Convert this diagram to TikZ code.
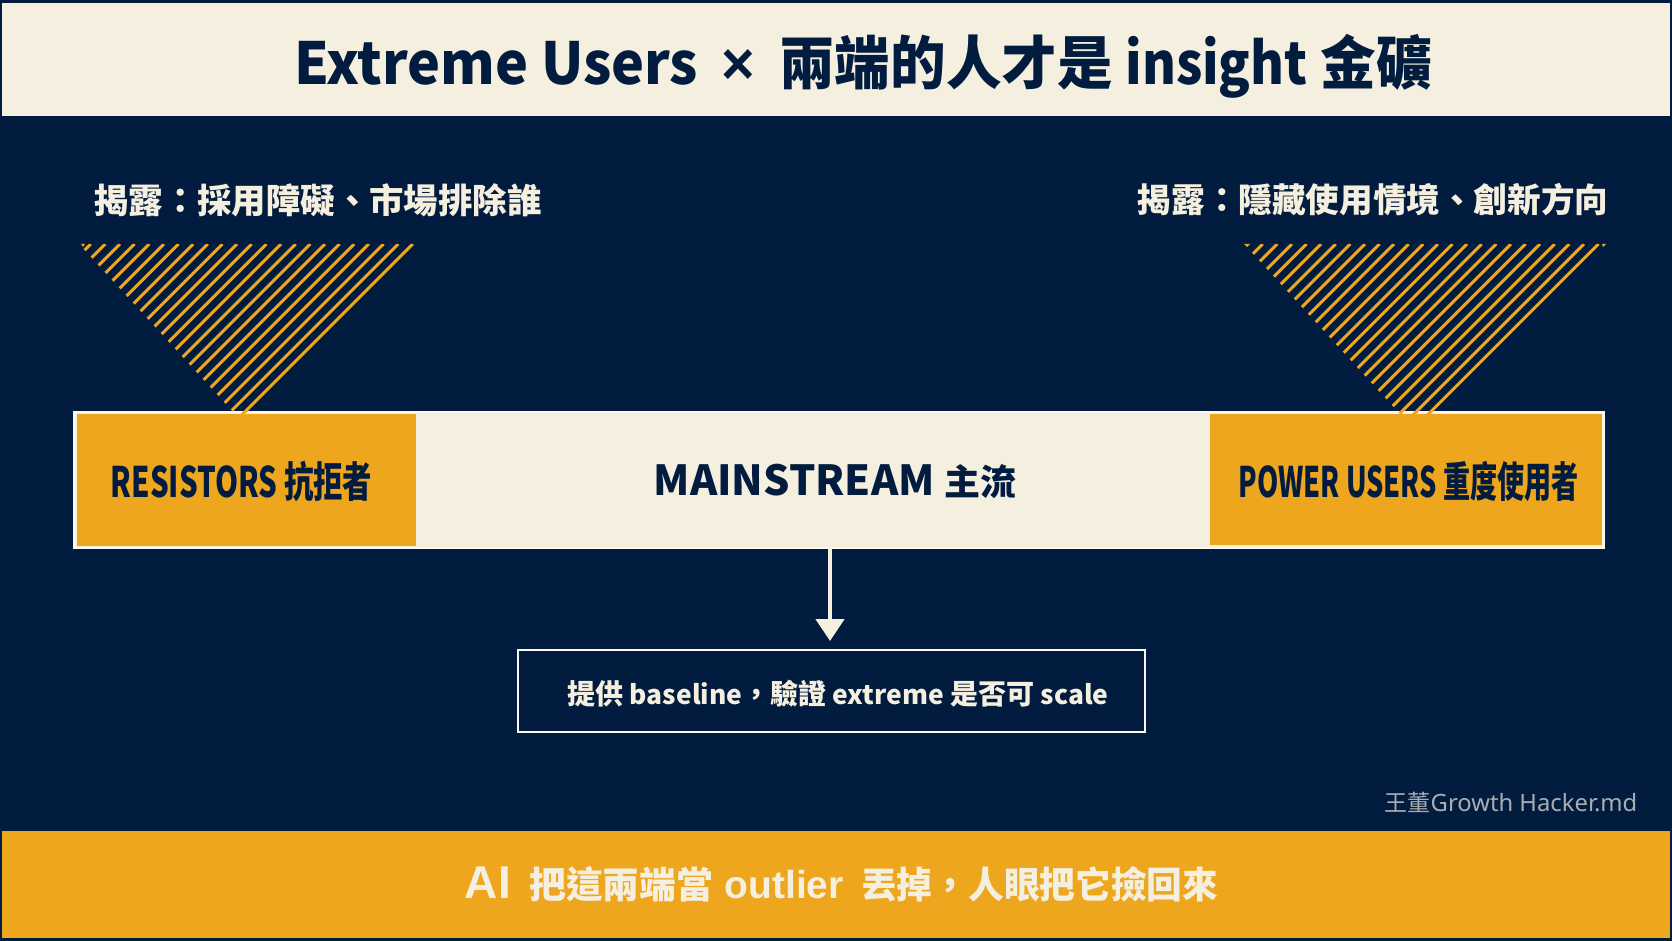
\documentclass[tikz,border=0pt]{standalone}
\usepackage{fontspec}
\usetikzlibrary{arrows.meta}
\setmainfont{Noto Sans CJK TC}
\newfontfamily\latinb{Noto Sans}
\newfontfamily\arialb[BoldFont={Liberation Sans Bold}]{Liberation Sans}
\definecolor{navy}{HTML}{021C3F}
\definecolor{cream}{HTML}{F5EFE0}
\definecolor{amber}{HTML}{EEA61E}
\definecolor{edge}{HTML}{FBF8F0}
\definecolor{mark}{HTML}{A9ADB3}
\newcommand{\fs}[1]{\fontsize{#1}{#1}\selectfont}
\newcommand{\fwcolon}{^^^^ff1a}
\newcommand{\fwcomma}{^^^^ff0c}
\tikzset{
  x=0.5pt,y=-0.5pt,
  band/.style={rectangle,inner sep=0pt,outer sep=0pt},
  label/.style={inner sep=0pt,outer sep=0pt,anchor=center,font=\bfseries},
  hatchline/.style={draw=amber,line width=1.5pt},
  flow/.style={draw=cream,line width=2.2pt,-{Triangle[width=14pt,length=11pt,fill=cream]}}
}
\begin{document}
\begin{tikzpicture}
\useasboundingbox (0,0) rectangle (1672,941);
\fill[navy] (0,0) rectangle (1672,941);
% banners
\node[band,fill=cream,minimum width=834pt,minimum height=56.5pt] (top) at (836,59.5) {};
\node[band,fill=amber,minimum width=834pt,minimum height=53.5pt] (bottom) at (836,884.5) {};
\node[label,text=navy] (title) at (863,66) {\scalebox{0.958}[1]{\fs{29}Extreme Users\hspace{5.8pt} {\arialb\bfseries\fs{30}×}\hspace{5.8pt} 兩端的人才是 \scalebox{0.93}[1]{insight} 金礦}};
\node[label,text=cream] (bottomtext) at (841.5,884) {\fs{18.4}{\arialb\bfseries\fs{23}AI}\hspace{5pt} 把這兩端當\hspace{1.5pt} {\arialb\bfseries\fs{19.5}outlier}\hspace{4.5pt} \scalebox{0.97}[1]{丟掉\fwcomma 人眼把它撿回來}};
% scale bar
\node[band,fill=cream,draw=edge,line width=1.25pt,minimum width=764.5pt,minimum height=67.75pt] (main) at (839,480) {};
\node[band,fill=amber,minimum width=169.5pt,minimum height=66pt] (resist) at (246.5,480) {};
\node[band,fill=amber,minimum width=196pt,minimum height=65.5pt] (power) at (1406,479.5) {};
\node[label,text=navy] (resisttext) at (241.5,481) {\scalebox{0.70}[1]{\fs{21}RESISTORS 抗拒者}};
\node[label,text=navy] (powertext) at (1408.5,481) {\scalebox{0.645}[1]{\fs{21}POWER USERS 重度使用者}};
\node[label,text=navy] (maintext) at (835,481) {\fs{20.7}MAINSTREAM {\fs{18}主流}};
% top labels
\node[label,text=cream] (leftlabel) at (318,200) {\fs{17.2}揭露\fwcolon 採用障礙、市場排除誰};
\node[label,text=cream] (rightlabel) at (1373,200) {\fs{16.8}揭露\fwcolon 隱藏使用情境、創新方向};
% hatched wedges
\begin{scope}
\clip (79,244) -- (416,244) -- (246,414) -- (235,414) -- cycle;
\foreach \k in {0,...,22} \draw[hatchline] ({90.7+\k*14.64},244) -- ({90.7+\k*14.64-180},424);
\end{scope}
\fill[amber] (81,244) -- (85,244) -- (83,247) -- cycle;
\begin{scope}
\clip (1244,244) -- (1601,244) -- (1431,414) -- (1400,414) -- cycle;
\foreach \k in {0,...,23} \draw[hatchline] ({1262.7+\k*14.6},244) -- ({1262.7+\k*14.6-180},424);
\end{scope}
\fill[amber] (1244,244) -- (1250,244) -- (1247,247) -- cycle;
\fill[amber] (1602,244) -- (1606,244) -- (1603,247) -- cycle;
% sub box
\node[band,draw=edge,line width=1.25pt,minimum width=313.5pt,minimum height=41pt] (sub) at (831.5,691) {};
\node[label,text=cream] (subtext) at (838,693.5) {\fs{14}提供 {\fs{13.2}baseline}\fwcomma 驗證 {\fs{13.2}extreme} 是否可 {\fs{13.2}scale}};
\coordinate (from) at ([xshift=-0.75pt]sub.north |- main.south);
\coordinate (to) at ([xshift=-0.75pt,yshift=4.5pt]sub.north);
\draw[flow] (from) -- (to);
% watermark
\node[inner sep=0pt,outer sep=0pt,text=mark] (markt) at (1511,802) {\fs{11.5}王董{\latinb\fs{11.9}Growth Hacker.md}};
\end{tikzpicture}
\end{document}
